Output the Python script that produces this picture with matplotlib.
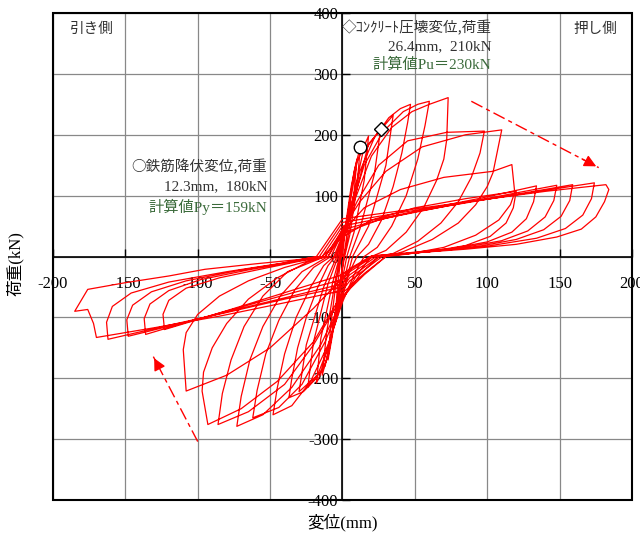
import numpy as np
import matplotlib.pyplot as plt
from matplotlib.patches import Rectangle

plt.rcParams['font.family'] = ['Liberation Serif', 'Noto Sans CJK JP', 'DejaVu Sans']
plt.rcParams['axes.unicode_minus'] = False

# 変位(mm) / 荷重(kN) の履歴 - 1サイクルごと
disp_cycles = [
    [0, 2, 5, 3.5, 1, -1.5, -5, -3.5, -1],
    [-1, 2, 6, 10, 8, 4, 1, -3, -7, -10, -8, -4, -1],
    [-1, 3, 8, 12.3, 10, 5, 1.5, -3, -9, -14, -11, -5, -1.5],
    [-1.5, 3, 10, 18, 15, 8, 3, -2, -10, -18, -15, -7, -2],
    [-2, 4, 14, 26.4, 22, 12, 5, -2, -12, -24, -20, -10, -3],
    [-3, 5, 18, 35, 30, 18, 7, -2, -15, -30, -25, -13, -4],
    [-4, 0, 5, 12, 22, 32, 40, 47, 45, 41, 35, 27, 18, 10, 4, -2, -10, -18, -27, -37, -35, -31, -25, -17, -10, -5],
    [-5, 0, 6, 15, 28, 42, 52, 60, 57, 52, 44, 34, 24, 15, 8, 0, -10, -22, -35, -48, -45, -40, -32, -22, -13, -6],
    [-6, 0, 8, 20, 34, 48, 60, 73, 72, 70, 65, 56, 44, 30, 20, 10, 0, -12, -28, -44, -62, -59, -53, -44, -33, -20, -8],
    [-8, 0, 10, 25, 45, 72, 98, 95, 89, 80, 68, 52, 35, 25, 12, 0, -15, -35, -55, -73, -70, -64, -55, -43, -28, -10],
    [-10, 0, 12, 30, 55, 85, 110, 104, 100, 92, 80, 62, 42, 30, 15, 0, -20, -40, -65, -86, -83, -77, -68, -55, -38, -12],
    [-12, 0, 15, 40, 70, 104, 117, 119, 116, 108, 92, 70, 45, 30, 15, 0, -20, -45, -70, -93,
     -97, -96, -90, -80, -65, -45, -25, -14],
    [-14, 0, 20, 50, 85, 120, 118, 113, 102, 85, 60, 35, 20, 5, 0, -20, -50, -80, -108,
     -110, -108, -100, -85, -65, -40, -20, -10],
    [-10, 0, 25, 60, 100, 134, 132, 127, 117, 100, 75, 45, 20, 5, 0, -30, -65, -95, -123,
     -124, -120, -108, -85, -55, -30, -12],
    [-12, 0, 30, 70, 110, 148, 146, 140, 128, 110, 82, 50, 22, 5, 0, -35, -70, -105, -136,
     -137, -133, -120, -98, -65, -35, -14],
    [-14, 0, 35, 75, 120, 159, 157, 151, 139, 120, 90, 55, 24, 5, 0, -35, -75, -112, -148,
     -149, -145, -132, -108, -72, -38, -16],
    [-16, 0, 40, 85, 130, 174, 172, 166, 154, 134, 100, 60, 26, 5, 0, -40, -80, -122, -162,
     -163, -159, -146, -120, -80, -42, -18],
    [-18, 0, 40, 90, 140, 178, 182, 184, 181, 175, 165, 148, 120, 85, 50, 28, 5, 0, -40, -85, -130, -170,
     -172, -176, -185, -176, -150, -120, -95, -60, -30, -15],
]
load_cycles = [
    [0, 45, 90, 45, 0, -45, -100, -50, 0],
    [0, 50, 115, 160, 105, 35, 0, -60, -130, -170, -110, -35, 0],
    [0, 60, 140, 180, 115, 35, 0, -60, -150, -195, -125, -40, 0],
    [0, 55, 155, 198, 125, 40, 0, -60, -165, -208, -135, -45, 0],
    [0, 60, 170, 210, 135, 45, 0, -70, -180, -215, -140, -45, 0],
    [0, 65, 185, 232, 150, 50, 0, -80, -190, -222, -145, -50, 0],
    [0, 30, 75, 140, 195, 228, 243, 250, 220, 170, 115, 60, 20, 0, -30, -85, -150, -200, -222, -232, -200, -150, -100, -50, -15, 0],
    [0, 30, 80, 150, 205, 238, 250, 255, 215, 160, 100, 50, 15, 0, -30, -75, -145, -205, -245, -260, -215, -160, -100, -50, -15, 0],
    [0, 35, 90, 165, 212, 238, 250, 261, 192, 160, 125, 80, 40, 10, 0, -30, -70, -140, -210, -248, -265, -220, -160, -105, -55, -18, 0],
    [0, 40, 90, 150, 190, 204, 206, 170, 130, 90, 55, 25, 5, 0, -30, -70, -145, -215, -260, -279, -230, -170, -115, -65, -25, 0],
    [0, 45, 90, 140, 180, 200, 208, 138, 115, 85, 55, 28, 8, 0, -30, -65, -145, -210, -255, -276, -225, -170, -115, -65, -25, 0],
    [0, 40, 80, 110, 130, 140, 151, 105, 85, 60, 35, 15, 4, 0, -28, -60, -140, -205, -250, -276,
     -221, -190, -150, -110, -70, -35, -10, 0],
    [0, 32, 60, 80, 95, 107, 80, 55, 33, 18, 8, 2, 0, -22, -35, -85, -150, -195, -221,
     -153, -125, -95, -65, -40, -18, -5, 0],
    [0, 38, 60, 79, 98, 116, 90, 62, 40, 24, 13, 6, 1, -20, -30, -52, -78, -100, -120,
     -95, -72, -52, -35, -20, -8, 0],
    [0, 44, 63, 82, 100, 117, 92, 65, 42, 26, 14, 6, 1, -25, -38, -60, -83, -106, -128,
     -102, -78, -56, -38, -22, -9, 0],
    [0, 50, 67, 84, 102, 118, 92, 66, 44, 28, 15, 7, 1, -30, -45, -65, -88, -110, -131,
     -104, -80, -58, -40, -23, -10, 0],
    [0, 56, 72, 89, 105, 121, 95, 68, 46, 30, 17, 8, 1, -35, -50, -70, -92, -114, -136,
     -108, -82, -60, -42, -25, -11, 0],
    [0, 62, 75, 91, 107, 117, 118, 110, 90, 65, 45, 32, 20, 12, 6, 1, -40, -56, -76, -98, -117, -133,
     -110, -87, -90, -54, -43, -32, -21, -12, -5, 0],
]

# 鉄筋降伏点とコンクリート圧壊点
yield_pt = (12.3, 180)
crush_pt = (26.4, 210)

# 押し側/引き側の劣化の向き
arrow_push = [(89, 255), (177, 146)]
arrow_pull = [(-100, -304), (-131, -163)]

disp = np.concatenate([np.array(c, float) for c in disp_cycles])
load = np.concatenate([np.array(c, float) for c in load_cycles])

fig = plt.figure(figsize=(6.4, 5.33), dpi=100)
ax = fig.add_axes([0.0828, 0.0619, 0.9047, 0.9137])

ax.plot(disp, load, color='#ff0000', lw=0.9, zorder=3)

ax.plot(*yield_pt, 'o', ms=9, mfc='white', mec='black', mew=1.0, zorder=5)
ax.plot(*crush_pt, 'D', ms=7, mfc='white', mec='black', mew=1.0, zorder=5)

for (x0, y0), (x1, y1) in [arrow_push, arrow_pull]:
    ax.plot([x0, x1], [y0, y1], color='#ff0000', lw=1.0, ls=(0, (9, 3, 3, 3)), zorder=4)
    ax.annotate('', xy=(x1, y1), xytext=(x0 + (x1 - x0) * 0.85, y0 + (y1 - y0) * 0.85),
                arrowprops=dict(arrowstyle='-|>', color='#ff0000', lw=1.0, mutation_scale=18),
                zorder=4)

ax.set_xlim(-200, 200)
ax.set_ylim(-400, 400)
ax.set_xticks(np.arange(-200, 201, 50))
ax.set_yticks(np.arange(-400, 401, 100))
ax.grid(True, color='#888888', lw=0.9)
ax.set_axisbelow(True)

ax.spines['left'].set_position(('data', 0))
ax.spines['bottom'].set_position(('data', 0))
ax.spines['top'].set_visible(False)
ax.spines['right'].set_visible(False)
for s in ['left', 'bottom']:
    ax.spines[s].set_linewidth(1.2)
ax.add_patch(Rectangle((0, 0), 1, 1, transform=ax.transAxes, fill=False,
                       lw=1.5, ec='black', clip_on=False, zorder=6))

ax.tick_params(axis='both', direction='in', length=6, width=1.0, labelsize=12)
ax.tick_params(axis='x', pad=14)
ax.tick_params(axis='y', pad=3)

fig.text(0.023, 0.505, '荷重(kN)', rotation=90, ha='center', va='center', fontsize=12)
fig.text(0.536, 0.02, '変位(mm)', ha='center', va='center', fontsize=12)

txt = '#333333'
green = '#3b6b3b'
cjk = ['Noto Sans CJK JP', 'Liberation Serif']
ax.text(-173, 373, '引き側', ha='center', va='center', fontsize=10.5, color=txt)
ax.text(175, 373, '押し側', ha='center', va='center', fontsize=10.5, color=txt)

ax.text(103, 376, '◇ｺﾝｸﾘｰﾄ圧壊変位,荷重', ha='right', va='center', fontsize=10.5, color=txt,
        family=cjk)
ax.text(103, 345, '26.4mm,  210kN', ha='right', va='center', fontsize=11, color=txt)
ax.text(103, 315, '計算値Pu＝230kN', ha='right', va='center', fontsize=11, color=green)

ax.text(-52, 148, '○鉄筋降伏変位,荷重', ha='right', va='center', fontsize=10.5, color=txt,
        family=cjk)
ax.text(-52, 115, '12.3mm,  180kN', ha='right', va='center', fontsize=11, color=txt)
ax.text(-52, 82, '計算値Py＝159kN', ha='right', va='center', fontsize=11, color=green)

fig.savefig('out.png', dpi=100)
